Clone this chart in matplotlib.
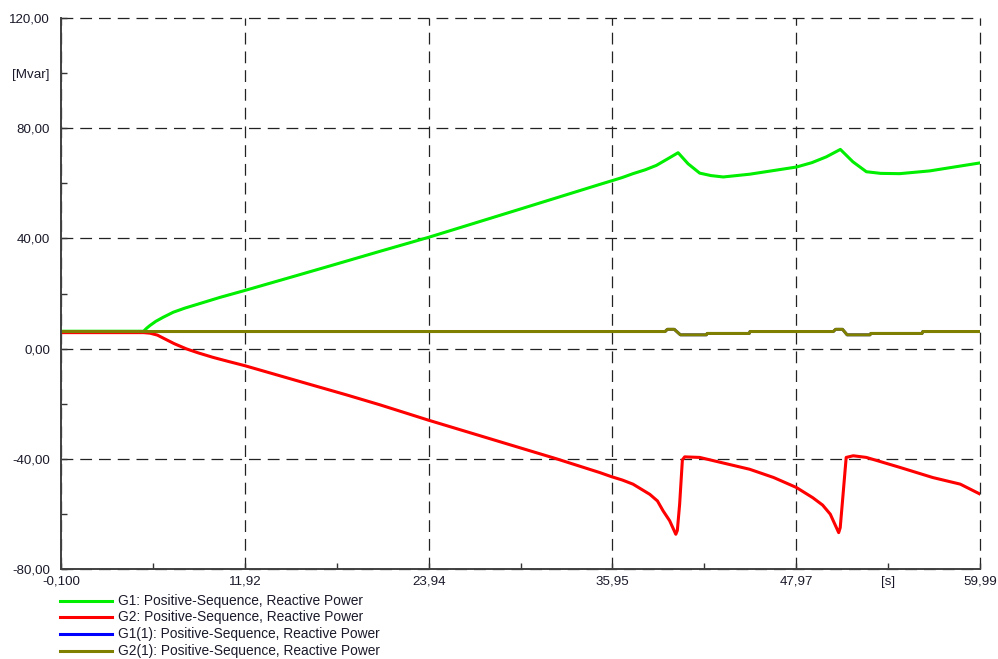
import numpy as np
import matplotlib
matplotlib.use('Agg')
import matplotlib.pyplot as plt
from matplotlib.lines import Line2D

plt.rcParams['font.family'] = ['Liberation Sans', 'DejaVu Sans']
plt.rcParams['lines.scale_dashes'] = False

# x / y axis
x_major = [-0.1, 11.92, 23.94, 35.95, 47.97, 59.99]
x_major_labels = ['-0,100', '11,92', '23,94', '35,95', '47,97', '59,99']
x_minor = [5.91, 17.93, 29.95, 41.96, 53.98]
x_minor_labels = ['', '', '', '', '[s]']
y_major = [-80, -40, 0, 40, 80, 120]
y_major_labels = ['-80,00', '-40,00', '0,00', '40,00', '80,00', '120,00']
y_minor = [-60, -20, 20, 60, 100]
y_minor_labels = ['', '', '', '', '[Mvar]']

# G1: Positive-Sequence, Reactive Power
g1_t = [-0.1, 5.3, 5.5, 5.72, 6.1, 6.59, 7.24, 8.0, 8.77, 10.3, 11.92, 15.3, 17.48,
        20.75, 23.94, 29.9, 35.13, 35.9, 36.6, 37.3, 38.1, 38.83, 39.7, 40.25, 40.9,
        41.66, 42.4, 43.2, 44.93, 47.98, 49.0, 49.94, 50.86, 51.68, 52.56, 53.5,
        54.74, 56.7, 59.99]
g1_q = [6.3, 6.3, 7.4, 8.4, 9.9, 11.4, 13.2, 14.7, 16.0, 18.6, 21.1, 26.5, 30.0,
        35.3, 40.4, 50.6, 59.6, 60.9, 62.1, 63.5, 64.9, 66.5, 69.3, 71.1, 67.1,
        63.7, 62.8, 62.3, 63.3, 65.9, 67.5, 69.6, 72.3, 67.8, 64.2, 63.6,
        63.5, 64.5, 67.4]

# G2: Positive-Sequence, Reactive Power
g2_t = [-0.1, 5.3, 5.72, 6.2, 6.59, 7.3, 8.1, 8.9, 9.85, 10.8, 11.92, 15.3, 18.57,
        20.75, 23.94, 32.3, 35.13, 35.9, 36.6, 37.3, 38.4, 38.9, 39.27, 39.7, 40.1,
        40.2, 40.35, 40.53, 40.68, 41.66, 44.93, 46.5, 47.98, 49.05, 49.7, 50.2, 50.75,
        50.85, 51.0, 51.24, 51.7, 52.56, 54.74, 56.9, 58.7, 59.99]
g2_q = [5.8, 5.8, 5.6, 4.9, 3.8, 1.8, -0.1, -1.6, -3.2, -4.6, -6.2, -11.6, -16.8,
        -20.4, -26.0, -40.0, -45.0, -46.5, -47.7, -49.2, -52.9, -55.3, -58.9, -62.5, -67.4,
        -66.0, -56.5, -40.4, -39.3, -39.5, -43.8, -46.8, -50.4, -54.1, -56.8, -60.1, -66.8,
        -65.0, -55.3, -39.5, -38.9, -39.5, -43.1, -46.8, -49.2, -52.8]

# G1(1) and G2(1): Positive-Sequence, Reactive Power (G1(1) hidden under G2(1))
g21_t = [-0.1, 39.4, 39.55, 40.0, 40.4, 42.1, 42.15, 44.9, 44.95, 50.4, 50.55, 51.0,
         51.3, 52.8, 52.85, 56.2, 56.25, 59.99]
g21_q = [6.2, 6.2, 7.0, 7.0, 5.0, 5.0, 5.5, 5.5, 6.2, 6.2, 7.0, 7.0,
         5.0, 5.0, 5.5, 5.5, 6.2, 6.2]
g11_t = list(g21_t)
g11_q = list(g21_q)

series = [
    ('G1: Positive-Sequence, Reactive Power', g1_t, g1_q, '#00ee00'),
    ('G2: Positive-Sequence, Reactive Power', g2_t, g2_q, '#ff0000'),
    ('G1(1): Positive-Sequence, Reactive Power', g11_t, g11_q, '#0000ff'),
    ('G2(1): Positive-Sequence, Reactive Power', g21_t, g21_q, '#808000'),
]

W, H = 998, 659
fig = plt.figure(figsize=(W / 100, H / 100), dpi=100)
L, R, T, B = 61, 980, 18, 569
ax = fig.add_axes([L / W, 1 - B / H, (R - L) / W, (B - T) / H])

for i, (name, t, q, col) in enumerate(series):
    lw = 2.0 if i == 2 else 2.2
    ax.plot(t, q, color=col, lw=lw, solid_joinstyle='round', zorder=3 + i)

ax.set_xlim(x_major[0], x_major[-1])
ax.set_ylim(y_major[0], y_major[-1])
ax.set_xticks(x_major, x_major_labels)
ax.set_xticks(x_minor, x_minor_labels, minor=True)
ax.set_yticks(y_major, y_major_labels)
ax.set_yticks(y_minor, y_minor_labels, minor=True)
ax.tick_params(which='both', direction='in', length=4, width=1.0, color='#333333',
               labelsize=9.6, labelcolor='#1a1a2a')
ax.tick_params(axis='x', which='both', pad=5)
ax.tick_params(axis='y', which='both', pad=8)
ax.grid(True, which='major', color='#222222', lw=0.9, linestyle=(0, (8.5, 5)))
for s in ['top', 'right']:
    ax.spines[s].set_visible(False)
for s in ['left', 'bottom']:
    ax.spines[s].set_color('#404040')
    ax.spines[s].set_linewidth(1.4)
    ax.spines[s].set_zorder(10)
for gl in ax.get_xgridlines() + ax.get_ygridlines():
    gl.set_clip_on(False)

# legend rows below the plot
for i, (name, t, q, col) in enumerate(series):
    yy = 1 - (600.5 + i * 16.8) / H
    fig.add_artist(Line2D([60 / W, 112 / W], [yy, yy], color=col, lw=2.2))
    fig.text(118 / W, yy, name, fontsize=9.9, va='center', ha='left', color='#1a1a2a')

fig.savefig('out.png', dpi=100, facecolor='white')
